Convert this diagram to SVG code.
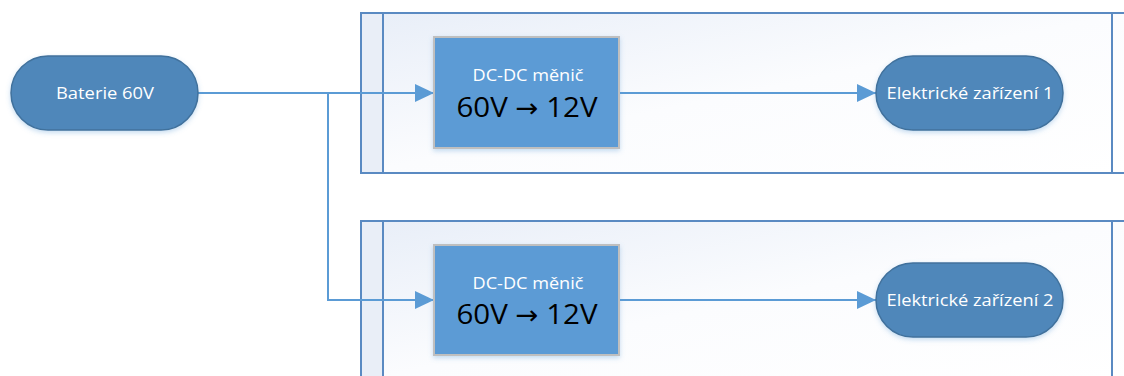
<svg xmlns="http://www.w3.org/2000/svg" width="1124" height="376" viewBox="0 0 1124 376">
<style>
.lane{stroke:#5a8ac2;stroke-width:2;fill:none}
.lanebg{fill:url(#lg)}
.hdr{fill:#e9eef7}
.term{fill:#4f87ba;stroke:#41719c;stroke-width:1.5;filter:url(#sh)}
.proc{fill:#5b9bd5;stroke:#bfbfbf;stroke-width:2;filter:url(#sh)}
.wt{fill:#ffffff;font-family:"Open Sans","Noto Sans",sans-serif;font-size:17px;text-anchor:middle}
.bt{fill:#000000;font-family:"Open Sans","Noto Sans",sans-serif;font-size:28px;text-anchor:middle}
.arr{font-family:"DejaVu Sans",sans-serif;font-size:26px}
.con{stroke:#5b9bd5;stroke-width:2;fill:none}
</style>
<defs>
<linearGradient id="lg" x1="0" y1="0" x2="1" y2="1">
<stop offset="0" stop-color="#e8eef8"/>
<stop offset="0.5" stop-color="#fbfcfe"/>
<stop offset="1" stop-color="#ffffff"/>
</linearGradient>
<filter id="sh" x="-20%" y="-20%" width="140%" height="150%">
<feDropShadow dx="0" dy="2" stdDeviation="2.5" flood-color="#5b9bd5" flood-opacity="0.35"/>
</filter>
<marker id="ah" markerWidth="19" markerHeight="18" refX="19" refY="9" orient="auto" markerUnits="userSpaceOnUse">
<path d="M0,0 L19,9 L0,18 Z" fill="#5b9bd5"/>
</marker>
</defs>
<g id="lane1">
<rect class="lanebg" x="361" y="13" width="763" height="160"/>
<rect class="hdr" x="361" y="13" width="22" height="160"/>
<path class="lane" d="M1124,13 H361 V173 H1124 M383,13 V173 M1112,13 V173"/>
</g>
<g id="lane2">
<rect class="lanebg" x="361" y="221" width="763" height="160"/>
<rect class="hdr" x="361" y="221" width="22" height="160"/>
<path class="lane" d="M1124,221 H361 V376 M383,221 V376 M1112,221 V376"/>
</g>
<g id="connectors">
<path class="con" d="M198,93 H434" marker-end="url(#ah)"/>
<path class="con" d="M328,93 V300 H434" marker-end="url(#ah)"/>
<path class="con" d="M619,93 H876" marker-end="url(#ah)"/>
<path class="con" d="M619,300 H876" marker-end="url(#ah)"/>
</g>
<g id="battery">
<rect class="term" x="11" y="56" width="187" height="74" rx="37"/>
<text class="wt" x="105" y="99" textLength="98" lengthAdjust="spacingAndGlyphs">Baterie 60V</text>
</g>
<g id="converter1">
<rect class="proc" x="434" y="37" width="185" height="111"/>
<text class="wt" x="528" y="81" textLength="111" lengthAdjust="spacingAndGlyphs">DC-DC měnič</text>
<text class="bt" x="527" y="117" textLength="141" lengthAdjust="spacingAndGlyphs">60V <tspan class="arr">→</tspan> 12V</text>
</g>
<g id="converter2">
<rect class="proc" x="434" y="245" width="185" height="110"/>
<text class="wt" x="528" y="289" textLength="111" lengthAdjust="spacingAndGlyphs">DC-DC měnič</text>
<text class="bt" x="527" y="324" textLength="141" lengthAdjust="spacingAndGlyphs">60V <tspan class="arr">→</tspan> 12V</text>
</g>
<g id="device1">
<rect class="term" x="876" y="56" width="187" height="74" rx="37"/>
<text class="wt" x="970" y="99" textLength="167" lengthAdjust="spacingAndGlyphs">Elektrické zařízení 1</text>
</g>
<g id="device2">
<rect class="term" x="876" y="263" width="187" height="74" rx="37"/>
<text class="wt" x="970" y="306" textLength="167" lengthAdjust="spacingAndGlyphs">Elektrické zařízení 2</text>
</g>
</svg>
